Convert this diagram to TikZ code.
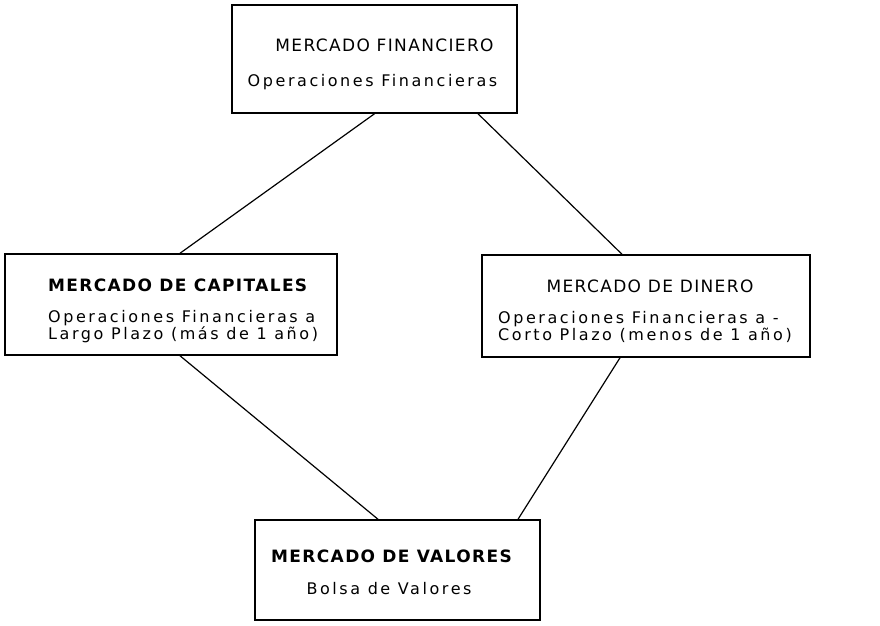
\documentclass[tikz,border=0pt]{standalone}
\usepackage{fontspec}
\setmainfont{DejaVu Sans}
\newfontfamily\titfont{DejaVu Sans}[LetterSpace=8]
\newfontfamily\cuerpofont{DejaVu Sans}[LetterSpace=16]
\usetikzlibrary{positioning}

\tikzstyle{caja} = [rectangle, draw, line width=1.5pt, inner sep=0pt]
\tikzstyle{titulo} = [font=\titfont\fontsize{17}{19}\selectfont, inner sep=0pt]
\tikzstyle{cuerpo} = [font=\cuerpofont\fontsize{16}{15}\selectfont, inner sep=0pt, align=left]
\tikzstyle{linea} = [draw, line width=1.2pt]

\begin{document}
\begin{tikzpicture}[x=1pt, y=-1pt]
	\useasboundingbox (0,0) rectangle (880,625);

	%Cajas
	\node [caja, minimum width=285pt, minimum height=108pt] (fin) at (374.5,59) {};
	\node [caja, minimum width=332pt, minimum height=101pt] (cap) at (171,304.5) {};
	\node [caja, minimum width=328pt, minimum height=102pt] (din) at (646,306) {};
	\node [caja, minimum width=285pt, minimum height=100pt] (val) at (397.5,570) {};

	%Textos
	\node [titulo] (finT) at (384.5,45) {MERCADO FINANCIERO};
	\node [cuerpo] (finC) at (372.5,82) {Operaciones Financieras};

	\node [titulo, anchor=west] (capT) at (48,285) {\bfseries MERCADO DE CAPITALES};
	\node [cuerpo, anchor=west] (capC) at (48,327) {Operaciones Financieras a\\Largo Plazo (más de 1 año)};

	\node [titulo] (dinT) at (650,286) {MERCADO DE DINERO};
	\node [cuerpo, anchor=west] (dinC) at (498,327) {Operaciones Financieras a -\\Corto Plazo (menos de 1 año)};

	\node [titulo] (valT) at (391.5,556) {\bfseries MERCADO DE VALORES};
	\node [cuerpo] (valC) at (389,589) {Bolsa de Valores};

	%Lineas
	\path [linea] (fin.south) -- ([xshift=9pt]cap.north);
	\path [linea] ([xshift=103.5pt]fin.south) -- ([xshift=-24pt]din.north);
	\path [linea] ([xshift=9pt]cap.south) -- ([xshift=-19.5pt]val.north);
	\path [linea] ([xshift=-26pt]din.south) -- ([xshift=120.5pt]val.north);

\end{tikzpicture}
\end{document}
